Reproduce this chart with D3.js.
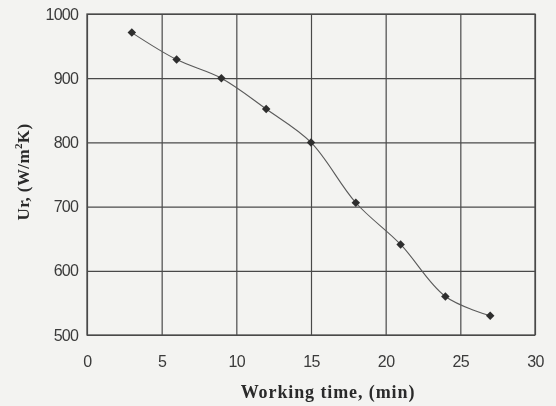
<!DOCTYPE html>
<html>
<head>
<meta charset="utf-8">
<script src="https://cdn.jsdelivr.net/npm/d3@7"></script>
<style>
  html, body { margin: 0; padding: 0; background: #f3f3f1; }
  svg { display: block; }
</style>
</head>
<body>
<svg id="chart" width="556" height="406"></svg>
<script>
// Working time (min) and overall heat transfer coefficient Ur (W/m²K)
const times = [3, 6, 9, 12, 15, 18, 21, 24, 27];
const urValues = [971, 929, 900, 852, 800, 706, 641, 560, 530];
const xTicks = [0, 5, 10, 15, 20, 25, 30];
const yTicks = [500, 600, 700, 800, 900, 1000];
const xTitle = "Working time, (min)";
const yTitle = ["Ur, (W/m", "2", "K)"];

const svg = d3.select("#chart");
const W = 556, H = 406;
const m = { left: 87, right: 21, top: 14, bottom: 71 };

svg.append("rect").attr("width", W).attr("height", H).attr("fill", "#f3f3f1");

const defs = svg.append("defs");
defs.append("filter").attr("id", "soft")
  .append("feGaussianBlur").attr("stdDeviation", 0.45);

const g = svg.append("g").attr("filter", "url(#soft)");

const x = d3.scaleLinear().domain([0, 30]).range([m.left, W - m.right]);
const y = d3.scaleLinear().domain([500, 1000]).range([H - m.bottom, m.top]);

const gridColor = "#4a4a4a";

// vertical grid lines
g.append("g").attr("transform", `translate(0,${H - m.bottom})`)
  .call(d3.axisBottom(x).tickValues(xTicks).tickSize(-(H - m.bottom - m.top)).tickFormat(""))
  .call(a => a.select(".domain").remove())
  .selectAll("line").attr("stroke", gridColor).attr("stroke-width", 1.2);

// horizontal grid lines
g.append("g").attr("transform", `translate(${m.left},0)`)
  .call(d3.axisLeft(y).tickValues(yTicks).tickSize(-(W - m.right - m.left)).tickFormat(""))
  .call(a => a.select(".domain").remove())
  .selectAll("line").attr("stroke", gridColor).attr("stroke-width", 1.2);

// plot frame
g.append("rect")
  .attr("x", m.left).attr("y", m.top)
  .attr("width", W - m.left - m.right).attr("height", H - m.top - m.bottom)
  .attr("fill", "none").attr("stroke", gridColor).attr("stroke-width", 1.3);

// tick labels
const tickFont = "'Liberation Sans', Arial, sans-serif";
g.append("g").attr("transform", `translate(0,${H - m.bottom + 32})`)
  .call(d3.axisBottom(x).tickValues(xTicks).tickSize(0).tickPadding(0).tickFormat(d3.format("d")))
  .call(a => a.select(".domain").remove())
  .selectAll("text")
  .attr("font-family", tickFont).attr("font-size", 16).attr("letter-spacing", -0.6)
  .attr("fill", "#3a3a3a").attr("dy", "0");

g.append("g").attr("transform", `translate(${m.left - 9},0)`)
  .call(d3.axisLeft(y).tickValues(yTicks).tickSize(0).tickPadding(0).tickFormat(d3.format("d")))
  .call(a => a.select(".domain").remove())
  .selectAll("text")
  .attr("font-family", tickFont).attr("font-size", 16).attr("letter-spacing", -0.8)
  .attr("fill", "#3a3a3a");

// data line
const pts = times.map((t, i) => [t, urValues[i]]);
g.append("path")
  .datum(pts)
  .attr("d", d3.line().x(d => x(d[0])).y(d => y(d[1])).curve(d3.curveCatmullRom))
  .attr("fill", "none").attr("stroke", "#5a5a5a").attr("stroke-width", 1.1);

// diamond markers
g.append("g").selectAll("path").data(pts).join("path")
  .attr("transform", d => `translate(${x(d[0])},${y(d[1])})`)
  .attr("d", d3.symbol(d3.symbolDiamond2, 46)())
  .attr("fill", "#2e2e2e");

// axis titles
const titleFont = "'Liberation Serif', 'Times New Roman', serif";
g.append("text")
  .attr("x", 328).attr("y", 398)
  .attr("text-anchor", "middle")
  .attr("font-family", titleFont).attr("font-weight", "bold").attr("font-size", 18)
  .attr("letter-spacing", 0.9)
  .attr("fill", "#2a2a2a")
  .text(xTitle);

const yt = g.append("text")
  .attr("transform", "translate(29,172) rotate(-90)")
  .attr("text-anchor", "middle")
  .attr("font-family", titleFont).attr("font-weight", "bold").attr("font-size", 17)
  .attr("letter-spacing", 0.4)
  .attr("fill", "#2a2a2a");
yt.append("tspan").text(yTitle[0]);
yt.append("tspan").attr("font-size", 11).attr("dy", -7).text(yTitle[1]);
yt.append("tspan").attr("dy", 7).text(yTitle[2]);
</script>
</body>
</html>
